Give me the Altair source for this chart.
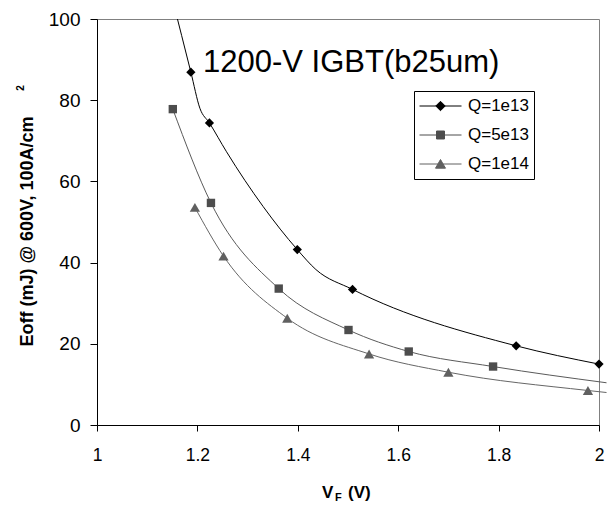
import altair as alt
import pandas as pd

series = ["Q=1e13", "Q=5e13", "Q=1e14"]
marker_colors = ["#000000", "#4d4d4d", "#606060"]
line_colors = ["#000000", "#5a5a5a", "#666666"]

# marker points
v_1e13 = [1.187, 1.224, 1.399, 1.509, 1.835, 2.000]
e_1e13 = [86.9, 74.4, 43.2, 33.4, 19.5, 15.0]
v_5e13 = [1.151, 1.227, 1.362, 1.501, 1.621, 1.789]
e_5e13 = [77.8, 54.7, 33.6, 23.4, 18.1, 14.4]
v_1e14 = [1.195, 1.252, 1.379, 1.542, 1.700, 1.978]
e_1e14 = [53.6, 41.6, 26.3, 17.5, 13.0, 8.5]

# curve vertices
cv_1e13 = [1.150, 1.187, 1.205, 1.224, 1.258, 1.331, 1.399, 1.436, 1.509, 1.835, 2.000]
ce_1e13 = [105.0, 86.9, 78.0, 74.4, 67.3, 53.8, 43.2, 38.3, 33.4, 19.5, 15.0]
cv_5e13 = [1.151, 1.227, 1.362, 1.501, 1.621, 1.789, 2.015]
ce_5e13 = [77.8, 54.7, 33.6, 23.4, 18.1, 14.4, 10.4]
cv_1e14 = [1.195, 1.252, 1.379, 1.542, 1.700, 1.978, 2.015]
ce_1e14 = [53.6, 41.6, 26.3, 17.5, 13.0, 8.5, 8.0]

x_ticks = [1, 1.2, 1.4, 1.6, 1.8, 2]
y_ticks = [0, 20, 40, 60, 80, 100]

title_text = "1200-V IGBT(b25um)"
y_title = "Eoff (mJ) @ 600V, 100A/cm"
y_sup = "2"
x_title_main = "V"
x_title_sub = "F"
x_title_unit = "(V)"

FONT = "Liberation Sans"

marker_shapes = ["diamond", "square", "triangle-up"]
marker_sizes = [85, 70, 105]
legend_paths = [
    "M-1,0L1,0M0,-0.224L0.224,0L0,0.224L-0.224,0Z",
    "M-1,0L1,0M-0.19,-0.19L0.19,-0.19L0.19,0.19L-0.19,0.19Z",
    "M-1,0L1,0M-0.238,0.2L0,-0.214L0.238,0.2Z",
]

curves = pd.concat([
    pd.DataFrame({"V": cv_1e13, "E": ce_1e13, "series": series[0]}),
    pd.DataFrame({"V": cv_5e13, "E": ce_5e13, "series": series[1]}),
    pd.DataFrame({"V": cv_1e14, "E": ce_1e14, "series": series[2]}),
])
markers = pd.concat([
    pd.DataFrame({"V": v_1e13, "E": e_1e13, "series": series[0]}),
    pd.DataFrame({"V": v_5e13, "E": e_5e13, "series": series[1]}),
    pd.DataFrame({"V": v_1e14, "E": e_1e14, "series": series[2]}),
])

x_scale = alt.Scale(domain=[1, 2], nice=False, zero=False)
y_scale = alt.Scale(domain=[0, 100], nice=False)

x_enc = alt.X("V:Q", scale=x_scale, axis=alt.Axis(
    values=x_ticks, format="~g", title=None, grid=False,
    tickSize=6, labelPadding=15, labelFontSize=17.5, labelFont=FONT,
    labelColor="black", domainColor="black", tickColor="black",
    labelFlush=False, labelOverlap=False))
y_enc = alt.Y("E:Q", scale=y_scale, axis=alt.Axis(
    values=y_ticks, title=y_title, grid=False,
    titleFontSize=18, titleFontWeight="bold", titleFont=FONT, titleColor="black",
    titleAngle=270, titleX=-65, titleY=212, titleAlign="center",
    titleBaseline="alphabetic",
    tickSize=7, labelPadding=10, labelFontSize=19, labelFont=FONT,
    labelColor="black", domainColor="black", tickColor="black"))

layers = []
for i, s in enumerate(series):
    layers.append(
        alt.Chart(curves).transform_filter(alt.datum.series == s)
        .mark_line(color=line_colors[i], strokeWidth=1, interpolate="monotone",
                   clip=(i == 0))
        .encode(x=x_enc, y=y_enc)
    )
for i, s in enumerate(series):
    layers.append(
        alt.Chart(markers).transform_filter(alt.datum.series == s)
        .mark_point(filled=True, shape=marker_shapes[i], size=marker_sizes[i],
                    color=marker_colors[i], opacity=1)
        .encode(x=x_enc, y=y_enc)
    )

leg = alt.Legend(
    title=None, orient="none", legendX=317, legendY=72,
    strokeColor="black", fillColor="white", padding=5,
    labelFont=FONT, labelFontSize=17, labelColor="black", labelOffset=6,
    symbolSize=1764, symbolStrokeWidth=1, symbolOpacity=1,
    clipHeight=20, rowPadding=9)

legend_layer = (
    alt.Chart(markers).transform_filter("false")
    .mark_point(filled=True, opacity=1)
    .encode(
        x=x_enc, y=y_enc,
        fill=alt.Fill("series:N", scale=alt.Scale(domain=series, range=marker_colors), legend=leg),
        stroke=alt.Stroke("series:N", scale=alt.Scale(domain=series, range=marker_colors), legend=leg),
        shape=alt.Shape("series:N", scale=alt.Scale(domain=series, range=legend_paths), legend=leg),
    )
)
layers.append(legend_layer)

one = pd.DataFrame({"k": [0]})
layers.append(alt.Chart(one).mark_text(
    text=title_text, font=FONT, fontSize=31, align="left", baseline="alphabetic", color="black"
).encode(x=alt.value(106), y=alt.value(53)))
layers.append(alt.Chart(one).mark_text(
    text=y_sup, font=FONT, fontSize=10, fontWeight="bold", angle=270,
    align="center", baseline="alphabetic", color="black"
).encode(x=alt.value(-73), y=alt.value(69)))
layers.append(alt.Chart(one).mark_text(
    text=x_title_main, font=FONT, fontSize=17, fontWeight="bold",
    align="left", baseline="alphabetic", color="black"
).encode(x=alt.value(225), y=alt.value(479)))
layers.append(alt.Chart(one).mark_text(
    text=x_title_sub, font=FONT, fontSize=11, fontWeight="bold",
    align="left", baseline="alphabetic", color="black"
).encode(x=alt.value(238), y=alt.value(482)))
layers.append(alt.Chart(one).mark_text(
    text=x_title_unit, font=FONT, fontSize=17, fontWeight="bold",
    align="left", baseline="alphabetic", color="black"
).encode(x=alt.value(251), y=alt.value(479)))

chart = alt.layer(*layers).properties(
    width=502, height=406,
    autosize=alt.AutoSizeParams(type="none"),
    padding={"left": 97, "top": 19, "right": 9, "bottom": 81},
    background="white",
).resolve_scale(fill="independent", stroke="independent", shape="independent").configure_view(
    stroke="#808080", strokeWidth=1
)

chart.save("out.html", embed_options={"renderer": "svg", "actions": False})
